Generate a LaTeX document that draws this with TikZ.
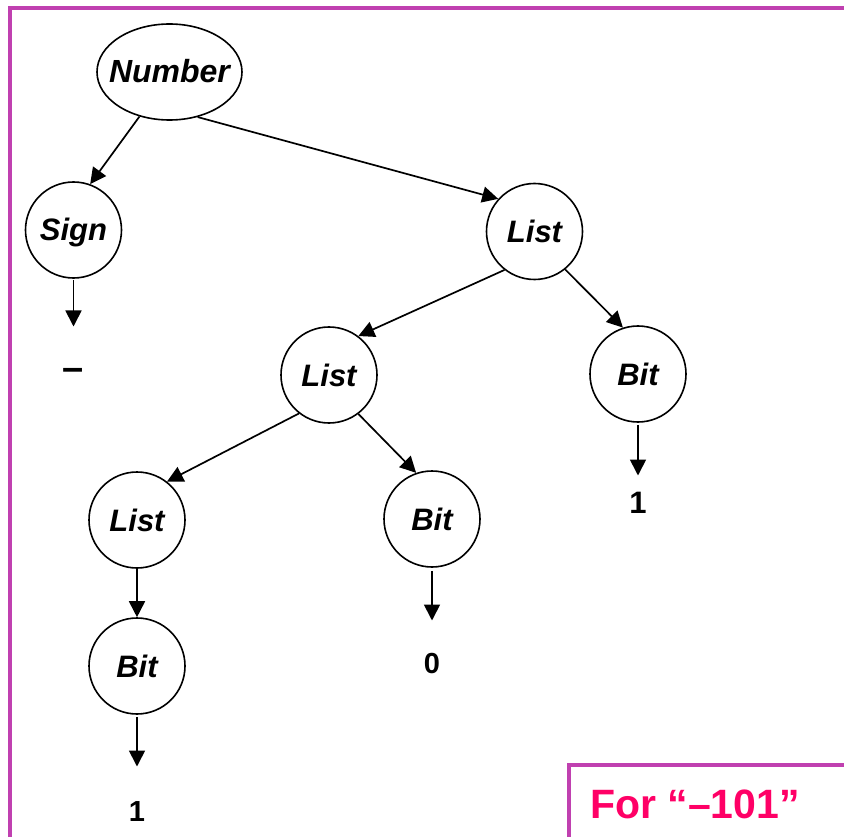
\documentclass[tikz,border=0pt]{standalone}
\usepackage{fontspec}
\setmainfont{Liberation Sans}
\usetikzlibrary{arrows.meta,shapes.geometric}
\definecolor{framepurple}{RGB}{192,64,176}
\definecolor{notepink}{RGB}{255,0,102}
\tikzset{
  treenode/.style={circle,draw,line width=1.6pt,minimum size=96pt,inner sep=0pt,
    font=\fontsize{31}{31}\selectfont\bfseries\itshape,text height=22pt,text depth=0pt},
  rootnode/.style={ellipse,draw,line width=1.6pt,minimum width=145pt,minimum height=96pt,
    inner xsep=-12pt,inner ysep=0pt,
    font=\fontsize{32}{32}\selectfont\bfseries\itshape,text height=22pt,text depth=0pt},
  leaf/.style={inner sep=0pt,outer sep=0pt,text height=0pt,text depth=0pt,anchor=center},
  edge/.style={line width=1.7pt,-{Triangle[width=16pt,length=16pt]}},
}
\begin{document}
\begin{tikzpicture}[x=1pt,y=-1pt]
\useasboundingbox (0,0) rectangle (844,837);
% frame
\draw[framepurple,line width=4pt] (846,8) -- (9.5,8) -- (9.5,840);
\draw[framepurple,line width=4pt] (846,765) -- (569,765) -- (569,840);
\node[anchor=base west,inner sep=0pt,text=notepink,font=\fontsize{41}{41}\selectfont\bfseries] (note) at (590,818) {For “–101”};
% tree nodes
\node[rootnode] (num) at (169.5,72) {Number};
\node[treenode] (sign) at (73.5,230) {Sign};
\node[treenode] (l1) at (534.5,231.5) {List};
\node[treenode] (l2) at (329,375) {List};
\node[treenode] (b1) at (638,374) {Bit};
\node[treenode] (l3) at (137,520) {List};
\node[treenode] (b2) at (432,519) {Bit};
\node[treenode] (b3) at (137,666) {Bit};
% leaves (placed at their baselines)
\node[leaf,font=\fontsize{38}{38}\selectfont\bfseries] (minus) at (73.5,380) {–};
\node[leaf,font=\fontsize{31}{31}\selectfont\bfseries] (one1) at (638,513) {1};
\node[leaf,font=\fontsize{29}{29}\selectfont\bfseries] (zero) at (432,673) {0};
\node[leaf,font=\fontsize{29}{29}\selectfont\bfseries] (one2) at (137,821) {1};
% edges
\draw[edge] (num.236) -- (sign.70);
\draw[edge] (num.302) -- (l1.138);
\draw[edge] (l1.232) -- (l2.53);
\draw[edge] (l1.309) -- (b1.108);
\draw[edge] (l2.232) -- (l3.52);
\draw[edge] (l2.307) -- (b2.109);
\draw[edge] (l3) -- (b3);
\draw[edge,shorten <=1pt,shorten >=53pt] (sign) -- (minus);
\draw[edge,shorten <=2pt,shorten >=37pt] (b1) -- (one1);
\draw[edge,shorten <=3pt,shorten >=52pt] (b2) -- (zero);
\draw[edge,shorten <=2pt,shorten >=54pt] (b3) -- (one2);
\end{tikzpicture}
\end{document}
